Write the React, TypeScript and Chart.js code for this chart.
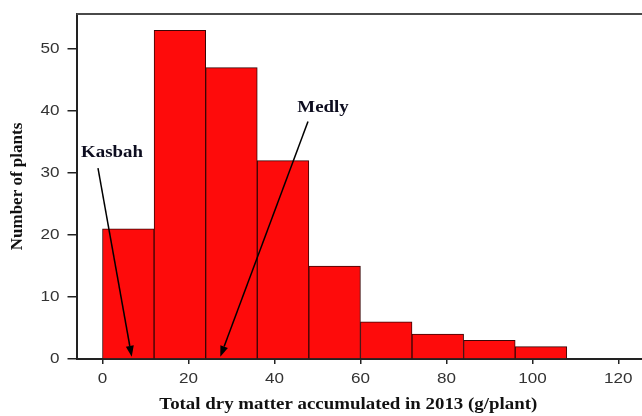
import React, { useEffect, useRef } from "react";
import { Chart, registerables } from "chart.js";

Chart.register(...registerables);

// ---- data ----
const binCenters = [6, 18, 30, 42, 54, 66, 78, 90, 102];
const plantCounts = [21, 53, 47, 32, 15, 6, 4, 3, 2];
const xTickValues = [0, 20, 40, 60, 80, 100, 120];
const yTickValues = [0, 10, 20, 30, 40, 50];
const xTitle = "Total dry matter accumulated in 2013 (g/plant)";
const yTitle = "Number of plants";
const noteLabels = ["Kasbah", "Medly"];
const noteLabelX = [2.2, 51.3];
const noteLabelY = [33.2, 40.5];
const noteFromX = [-1.05, 47.8];
const noteFromY = [30.8, 38.3];
const noteToX = [6.8, 27.4];
const noteToY = [0.35, 0.35];

const X_MIN = -6.05;
const X_MAX = 125.5;
const Y_MAX = 55.65;
const STRETCH = 1.18;

function drawText(
  ctx: CanvasRenderingContext2D,
  text: string,
  x: number,
  y: number,
  font: string,
  color: string,
  stretch: number,
  align: CanvasTextAlign = "center",
  rotate = 0
) {
  ctx.save();
  ctx.translate(x, y);
  if (rotate) ctx.rotate(rotate);
  ctx.scale(stretch, 1);
  ctx.font = font;
  ctx.fillStyle = color;
  ctx.textAlign = align;
  ctx.textBaseline = "middle";
  ctx.fillText(text, 0, 0);
  ctx.restore();
}

const decorPlugin = {
  id: "decor",
  afterDraw(chart: any) {
    const ctx: CanvasRenderingContext2D = chart.ctx;
    const xs = chart.scales.x;
    const ys = chart.scales.y;
    const area = chart.chartArea;

    // top frame line
    ctx.save();
    ctx.strokeStyle = "#4a4a4a";
    ctx.lineWidth = 2;
    ctx.beginPath();
    ctx.moveTo(area.left, area.top);
    ctx.lineTo(area.right, area.top);
    ctx.stroke();
    ctx.restore();

    // tick labels
    const tickFont = "14px 'Liberation Sans', Arial, sans-serif";
    xTickValues.forEach((v) => {
      drawText(ctx, String(v), xs.getPixelForValue(v), area.bottom + 20, tickFont, "#333", 1.22);
    });
    yTickValues.forEach((v) => {
      drawText(ctx, String(v), area.left - 17, ys.getPixelForValue(v), tickFont, "#333", 1.22, "right");
    });

    // axis titles
    const titleFont = "bold 16px 'Liberation Serif', 'Times New Roman', serif";
    drawText(ctx, xTitle, (area.left + area.right) / 2 - 11, 405, titleFont, "#111", STRETCH);
    drawText(
      ctx,
      yTitle,
      18,
      (area.top + area.bottom) / 2,
      "bold 17px 'Liberation Serif', 'Times New Roman', serif",
      "#111",
      1,
      "center",
      -Math.PI / 2
    );

    // annotations with arrows
    noteLabels.forEach((label, i) => {
      drawText(
        ctx,
        label,
        xs.getPixelForValue(noteLabelX[i]),
        ys.getPixelForValue(noteLabelY[i]),
        titleFont,
        "#0d0d1f",
        STRETCH
      );
      const x1 = xs.getPixelForValue(noteFromX[i]);
      const y1 = ys.getPixelForValue(noteFromY[i]);
      const x2 = xs.getPixelForValue(noteToX[i]);
      const y2 = ys.getPixelForValue(noteToY[i]);
      const ang = Math.atan2(y2 - y1, x2 - x1);
      const headLen = 11;
      const headHalf = 4;
      const bx = x2 - headLen * Math.cos(ang);
      const by = y2 - headLen * Math.sin(ang);
      ctx.save();
      ctx.strokeStyle = "#000";
      ctx.fillStyle = "#000";
      ctx.lineWidth = 1.5;
      ctx.beginPath();
      ctx.moveTo(x1, y1);
      ctx.lineTo(bx, by);
      ctx.stroke();
      ctx.beginPath();
      ctx.moveTo(x2, y2);
      ctx.lineTo(bx + headHalf * Math.sin(ang), by - headHalf * Math.cos(ang));
      ctx.lineTo(bx - headHalf * Math.sin(ang), by + headHalf * Math.cos(ang));
      ctx.closePath();
      ctx.fill();
      ctx.restore();
    });
  },
};

export default function App() {
  const canvasRef = useRef<HTMLCanvasElement | null>(null);

  useEffect(() => {
    if (!canvasRef.current) return;
    const chart = new Chart(canvasRef.current, {
      type: "bar",
      data: {
        datasets: [
          {
            data: binCenters.map((x, i) => ({ x, y: plantCounts[i] })),
            backgroundColor: "#fe0b0b",
            borderColor: "#3a0606",
            borderWidth: 1,
            barPercentage: 1,
            categoryPercentage: 1,
          },
        ],
      },
      options: {
        animation: false,
        responsive: true,
        maintainAspectRatio: false,
        layout: { padding: { top: 14, left: 0, right: 0, bottom: 0 } },
        plugins: { legend: { display: false }, tooltip: { enabled: false } },
        scales: {
          x: {
            type: "linear",
            min: X_MIN,
            max: X_MAX,
            offset: false,
            afterBuildTicks: (s: any) => {
              s.ticks = xTickValues.map((v) => ({ value: v }));
            },
            afterFit: (s: any) => {
              s.height = 57;
            },
            ticks: { display: false },
            grid: {
              offset: false,
              drawOnChartArea: false,
              drawTicks: true,
              tickLength: 5,
              color: "#222",
              lineWidth: 1.5,
            },
            border: { display: true, color: "#222", width: 2 },
          },
          y: {
            type: "linear",
            min: 0,
            max: Y_MAX,
            afterBuildTicks: (s: any) => {
              s.ticks = yTickValues.map((v) => ({ value: v }));
            },
            afterFit: (s: any) => {
              s.width = 76.5;
            },
            ticks: { display: false },
            grid: {
              drawOnChartArea: false,
              drawTicks: true,
              tickLength: 9,
              color: "#222",
              lineWidth: 1.5,
            },
            border: { display: true, color: "#222", width: 2 },
          },
        },
      } as any,
      plugins: [decorPlugin],
    });
    return () => chart.destroy();
  }, []);

  return (
    <div
      style={{
        position: "fixed",
        left: 0,
        top: 0,
        width: 642,
        height: 416,
        background: "#fff",
      }}
    >
      <canvas ref={canvasRef} />
    </div>
  );
}
